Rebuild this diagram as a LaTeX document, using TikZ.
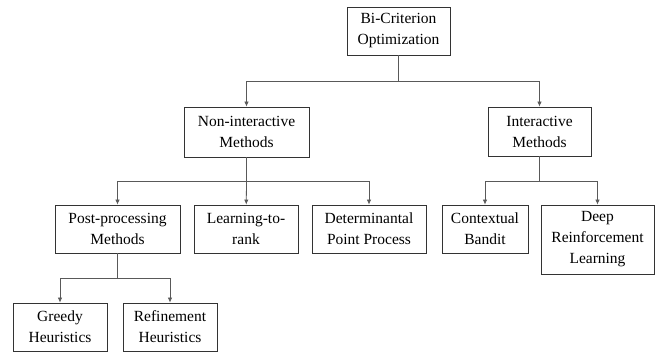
\documentclass[tikz,border=0pt]{standalone}
\usepackage{fontspec}
\setmainfont{Liberation Serif}
\usetikzlibrary{arrows.meta}
\begin{document}
\begin{tikzpicture}[x=1pt,y=-1pt,
  box/.style={draw=black!80,line width=0.8pt,rectangle,inner sep=0pt,align=center,
    font=\fontsize{15.5}{21}\selectfont},
  conn/.style={draw=black!65,line width=0.8pt},
  arr/.style={conn,-{Latex[length=5pt,width=4.5pt]}}]
\useasboundingbox (0,0) rectangle (659,352);
\node[box,minimum width=103pt,minimum height=48pt] (root) at (398.5,31) {Bi-Criterion\\Optimization};
\node[box,minimum width=125pt,minimum height=50pt] (nonint) at (246.5,132) {Non-interactive\\Methods};
\node[box,minimum width=103pt,minimum height=49pt] (inter) at (539.5,131.5) {Interactive\\Methods};
\node[box,minimum width=125pt,minimum height=48pt] (post) at (117.5,229) {Post-processing\\Methods};
\node[box,minimum width=104pt,minimum height=48pt] (ltr) at (246,229) {Learning-to-\\rank};
\node[box,minimum width=114pt,minimum height=48pt] (dpp) at (369,229) {Determinantal\\Point Process};
\node[box,minimum width=86pt,minimum height=48pt] (ctx) at (485,229) {Contextual\\Bandit};
\node[box,minimum width=113pt,minimum height=69pt] (drl) at (597.5,239.5) {Deep\\Reinforcement\\Learning};
\node[box,minimum width=94pt,minimum height=48pt] (greedy) at (60,327) {Greedy\\Heuristics};
\node[box,minimum width=94pt,minimum height=48pt] (refine) at (170,327) {Refinement\\Heuristics};
\coordinate (j1) at (398.5,81.5);
\coordinate (j2) at (246.5,181);
\coordinate (j3) at (539.5,181);
\coordinate (j4) at (117.5,278.5);
\draw[conn] (root) -- (j1);
\draw[arr] (j1) -| (nonint);
\draw[arr] (j1) -| (inter);
\draw[conn] (nonint) -- (j2);
\draw[arr] (j2) -| (post);
\draw[arr] (j2) -- (ltr);
\draw[arr] (j2) -| (dpp);
\draw[conn] (inter) -- (j3);
\draw[arr] (j3) -| (ctx);
\draw[arr] (j3) -| (drl);
\draw[conn] (post) -- (j4);
\draw[arr] (j4) -| (greedy);
\draw[arr] (j4) -| (refine);
\end{tikzpicture}
\end{document}
